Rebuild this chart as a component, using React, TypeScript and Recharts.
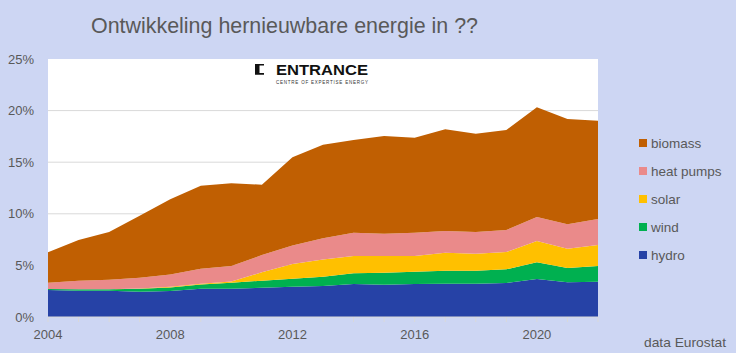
import React from 'react';
import { AreaChart, Area, XAxis, YAxis, CartesianGrid, Legend } from 'recharts';

const years = [2004, 2005, 2006, 2007, 2008, 2009, 2010, 2011, 2012, 2013, 2014, 2015, 2016, 2017, 2018, 2019, 2020, 2021, 2022];
const hydro = [2.62, 2.55, 2.55, 2.45, 2.52, 2.74, 2.74, 2.84, 2.94, 3.0, 3.2, 3.13, 3.2, 3.23, 3.23, 3.29, 3.68, 3.36, 3.42];
const wind = [0.09, 0.13, 0.13, 0.29, 0.35, 0.42, 0.59, 0.68, 0.77, 0.9, 1.03, 1.16, 1.19, 1.26, 1.26, 1.33, 1.62, 1.39, 1.52];
const solar = [0.0, 0.01, 0.01, 0.02, 0.05, 0.07, 0.12, 0.81, 1.42, 1.67, 1.68, 1.62, 1.52, 1.74, 1.64, 1.68, 2.06, 1.87, 2.04];
const heatPumps = [0.62, 0.83, 0.93, 1.05, 1.21, 1.45, 1.49, 1.67, 1.81, 2.05, 2.26, 2.16, 2.26, 2.1, 2.11, 2.13, 2.33, 2.36, 2.52];
const biomass = [2.94, 3.94, 4.62, 5.99, 7.27, 8.05, 8.01, 6.82, 8.53, 9.08, 8.98, 9.47, 9.21, 9.86, 9.52, 9.69, 10.63, 10.21, 9.52];
const yTicks = [0, 5, 10, 15, 20, 25];
const xLabelYears = [2004, 2008, 2012, 2016, 2020];

const title = 'Ontwikkeling hernieuwbare energie in ??';
const source = 'data Eurostat';

const series = [
  { key: 'hydro', name: 'hydro', color: '#2642A6' },
  { key: 'wind', name: 'wind', color: '#00B050' },
  { key: 'solar', name: 'solar', color: '#FFC000' },
  { key: 'heatPumps', name: 'heat pumps', color: '#EA8A8A' },
  { key: 'biomass', name: 'biomass', color: '#C05F02' },
];

const data = years.map((y, i) => ({
  year: y,
  hydro: hydro[i],
  wind: wind[i],
  solar: solar[i],
  heatPumps: heatPumps[i],
  biomass: biomass[i],
}));

const BG = '#CDD6F3';
const TXT = '#595959';
const FONT = '"Liberation Sans", Arial, sans-serif';

const LegendContent = () => {
  const items = [...series].reverse();
  return (
    <div style={{ position: 'absolute', left: 639, top: 133, width: 100 }}>
      {items.map((s, i) => (
        <div key={s.key} style={{ position: 'absolute', left: 0, top: i * 28, height: 20, display: 'flex', alignItems: 'center', whiteSpace: 'nowrap' }}>
          <span style={{ display: 'inline-block', width: 8, height: 8, background: s.color, marginRight: 4 }} />
          <span style={{ fontFamily: FONT, fontSize: 13.5, color: TXT }}>{s.name}</span>
        </div>
      ))}
    </div>
  );
};

export default function App() {
  return (
    <div style={{ position: 'absolute', left: 0, top: 0, width: 736, height: 353, background: BG, overflow: 'hidden' }}>
      <AreaChart
        width={736}
        height={353}
        data={data}
        margin={{ top: 59, right: 138, left: 0, bottom: 0 }}
      >
        <CartesianGrid horizontal vertical={false} fill="#FFFFFF" stroke="#D9D9D9" horizontalValues={[5, 10, 15, 20]} />
        <XAxis
          dataKey="year"
          type="number"
          domain={[2004, 2022]}
          ticks={years}
          interval={0}
          height={36}
          tickSize={5}
          tickMargin={8}
          axisLine={{ stroke: '#D9D9D9' }}
          tickLine={{ stroke: '#D9D9D9' }}
          tickFormatter={(v) => (xLabelYears.includes(v) ? String(v) : '')}
          tick={{ fill: TXT, fontSize: 13, fontFamily: FONT }}
        />
        <YAxis
          type="number"
          domain={[0, 25]}
          ticks={yTicks}
          width={48}
          tickSize={0}
          tickMargin={14}
          axisLine={false}
          tickLine={false}
          tickFormatter={(v) => `${v}%`}
          tick={{ fill: TXT, fontSize: 13, fontFamily: FONT }}
        />
        {series.map((s) => (
          <Area
            key={s.key}
            type="linear"
            dataKey={s.key}
            name={s.name}
            stackId="1"
            stroke="none"
            fill={s.color}
            fillOpacity={1}
            isAnimationActive={false}
          />
        ))}
        <Legend content={<LegendContent />} wrapperStyle={{ position: 'absolute', left: 0, top: 0, width: 0, height: 0 }} />
      </AreaChart>
      <svg width={736} height={353} style={{ position: 'absolute', left: 0, top: 0, pointerEvents: 'none' }}>
        <text x={91} y={33} fontFamily={FONT} fontSize={22} fill={TXT} textLength={387} lengthAdjust="spacingAndGlyphs">{title}</text>
        <text x={726} y={347} textAnchor="end" fontFamily={FONT} fontSize={13.5} fill={TXT} textLength={82} lengthAdjust="spacingAndGlyphs">{source}</text>
        <path d="M255,64 H264 V65.6 H259.5 V73.1 H264 V74.7 H255 Z" fill="#111" />
        <text x={276} y={75} fontFamily={FONT} fontSize={15} fontWeight="bold" fill="#111" textLength={92} lengthAdjust="spacingAndGlyphs">ENTRANCE</text>
        <text x={276} y={83.5} fontFamily={FONT} fontSize={4.5} fill="#333" textLength={92} lengthAdjust="spacing">CENTRE OF EXPERTISE ENERGY</text>
      </svg>
    </div>
  );
}
